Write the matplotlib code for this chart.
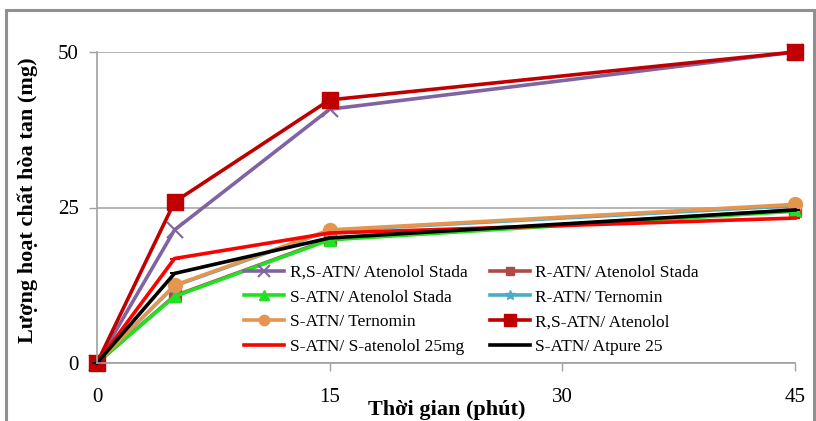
import matplotlib.pyplot as plt
from matplotlib.patches import Rectangle

# Time points (minutes)
time_min = [0, 5, 15, 45]

# Dissolved amount (mg)
rs_atn_stada = [0, 21.4, 40.8, 50.0]
r_atn_stada = [0, 10.8, 19.9, 24.6]
s_atn_stada = [0, 10.7, 19.8, 24.4]
r_atn_ternomin = [0, 12.4, 21.3, 25.3]
s_atn_ternomin = [0, 12.5, 21.4, 25.5]
rs_atn_atenolol = [0, 25.9, 42.3, 50.0]
s_atn_s_atenolol = [0, 16.8, 20.9, 23.3]
s_atn_atpure = [0, 14.4, 20.1, 24.6]

labels = ["R,S-ATN/ Atenolol Stada", "R-ATN/ Atenolol Stada",
          "S-ATN/ Atenolol Stada", "R-ATN/ Ternomin",
          "S-ATN/ Ternomin", "R,S-ATN/ Atenolol",
          "S-ATN/ S-atenolol 25mg", "S-ATN/ Atpure 25"]

x_ticks = [0, 15, 30, 45]
y_ticks = [0, 25, 50]

plt.rcParams['font.family'] = ['Liberation Serif', 'DejaVu Serif']

fig = plt.figure(figsize=(8.16, 4.21), dpi=100)
ax = fig.add_axes([97 / 816, 58 / 421, 698 / 816, 311 / 421])

# (values, colour, marker, markersize) in drawing order
series = [
    (rs_atn_stada, '#8064A2', 'x', 11),
    (r_atn_stada, '#B04848', 's', 8),
    (r_atn_ternomin, '#4BACC6', '*', 10),
    (s_atn_stada, '#22E022', '^', 9),
    (s_atn_ternomin, '#E4964E', 'o', 10),
    (rs_atn_atenolol, '#C00000', 's', 11),
    (s_atn_s_atenolol, '#FF0000', '_', 7),
    (s_atn_atpure, '#000000', '_', 7),
]
series_labels = [labels[0], labels[1], labels[3], labels[2],
                 labels[4], labels[5], labels[6], labels[7]]

handles = {}
for (vals, col, mk, ms), lab in zip(series, series_labels):
    ln, = ax.plot(time_min, vals, color=col, lw=2.6, marker=mk, ms=ms,
                  mew=1.5 if mk in ('x', '_') else 1, clip_on=False, label=lab)
    handles[lab] = ln

ax.set_xlim(0, 45)
ax.set_ylim(0, 50)
ax.set_xticks(x_ticks)
ax.set_yticks(y_ticks)
ax.tick_params(axis='both', direction='out', length=6, width=1,
               color='#A0A0A0', labelsize=15)
ax.tick_params(axis='x', pad=12)
ax.tick_params(axis='y', pad=7)
ax.grid(axis='y', color='#A8A8A8', lw=1.2)
ax.set_axisbelow(True)
for s in ('top', 'right'):
    ax.spines[s].set_visible(False)
for s in ('left', 'bottom'):
    ax.spines[s].set_color('#A0A0A0')
    ax.spines[s].set_linewidth(1.2)

# Legend: two columns filled row by row
order = [labels[i] for i in (0, 2, 4, 6, 1, 3, 5, 7)]
leg = ax.legend([handles[l] for l in order], order, ncol=2, loc='lower left',
                bbox_to_anchor=(0.2, 0.0), frameon=False, fontsize=12.5,
                handlelength=2.3, handletextpad=0.3, columnspacing=1.3,
                labelspacing=0.5, borderaxespad=0.05, markerscale=0.75)

fig.text(447 / 816, 1 - 410 / 421, 'Thời gian (phút)', ha='center', va='center',
         fontsize=16, fontweight='bold')
fig.text(28 / 816, 1 - 200 / 421, 'Lượng hoạt chất hòa tan (mg)', ha='center',
         va='center', rotation=90, fontsize=16, fontweight='bold')

# Outer frame of the embedded chart
fig.patches.append(Rectangle((6 / 816, -0.05), 808 / 816, 1.05 - 10 / 421,
                             transform=fig.transFigure, fill=False,
                             edgecolor='#909090', lw=2.2))

fig.savefig('out.png', dpi=100)
